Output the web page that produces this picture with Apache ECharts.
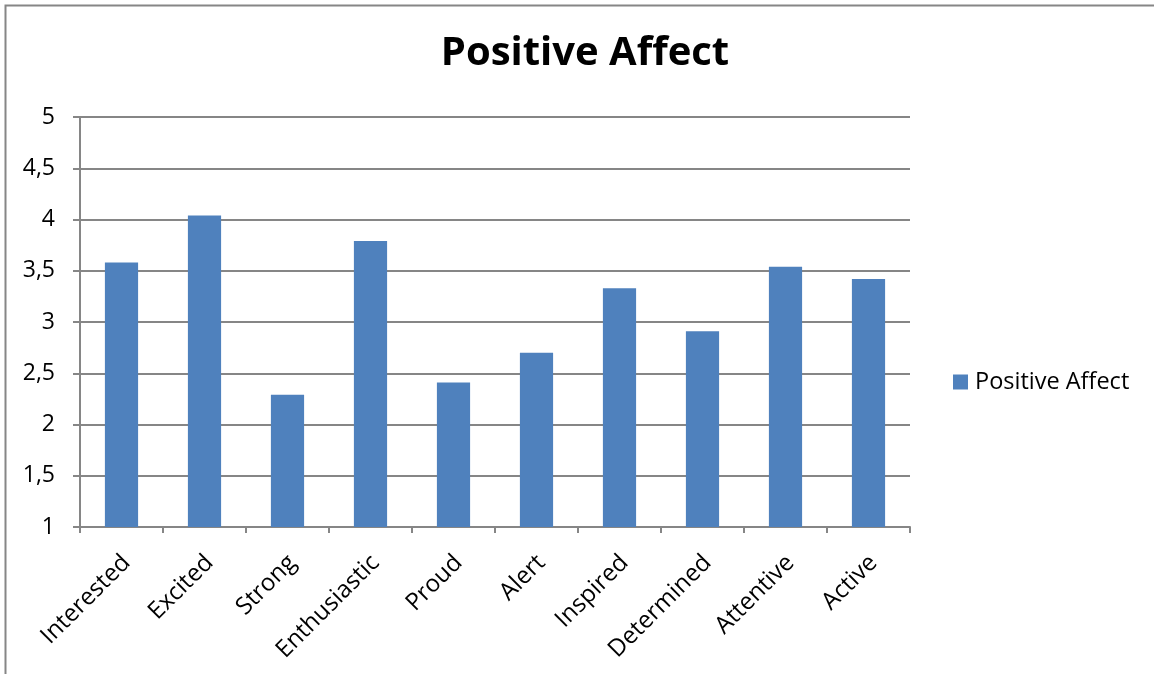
<!DOCTYPE html>
<html>
<head>
<meta charset="utf-8">
<script src="https://cdn.jsdelivr.net/npm/echarts@6/dist/echarts.min.js"></script>
<style>
  html, body { margin: 0; padding: 0; background: #fff; }
  #chart { width: 1154px; height: 674px; }
</style>
</head>
<body>
<div id="chart"></div>
<script>
// Mean ratings for each positive-affect item
const categories = ['Interested', 'Excited', 'Strong', 'Enthusiastic', 'Proud', 'Alert', 'Inspired', 'Determined', 'Attentive', 'Active'];
const values = [3.58, 4.04, 2.29, 3.79, 2.41, 2.70, 3.33, 2.91, 3.54, 3.42];
const seriesName = 'Positive Affect';
const chartTitle = 'Positive Affect';

const FONT = '"Open Sans", "Liberation Sans", sans-serif';
const GRAY = '#868686';

const chart = echarts.init(document.getElementById('chart'));
chart.setOption({
  animation: false,
  backgroundColor: '#fff',
  title: {
    text: chartTitle,
    left: 580,
    textAlign: 'center',
    top: 29,
    textStyle: { fontFamily: FONT, fontSize: 40, fontWeight: 'bold', color: '#000' }
  },
  legend: {
    data: [seriesName],
    left: 948,
    top: 365,
    padding: 5,
    itemWidth: 15,
    itemHeight: 15,
    itemGap: 6,
    icon: 'rect',
    textStyle: { fontFamily: FONT, fontSize: 23.5, color: '#000', padding: [0, 0, 0, 2] }
  },
  grid: { left: 80, right: 244, top: 117, bottom: 147, containLabel: false },
  xAxis: {
    type: 'category',
    data: categories,
    boundaryGap: true,
    axisLine: { lineStyle: { color: GRAY, width: 2 } },
    axisTick: { show: true, length: 6, alignWithLabel: false, lineStyle: { color: GRAY, width: 2 } },
    axisLabel: {
      rotate: 45, fontFamily: FONT, fontSize: 24, color: '#000',
      margin: 20, interval: 0, verticalAlign: 'top', padding: [0, 5, 0, 0]
    }
  },
  yAxis: {
    type: 'value',
    min: 1,
    max: 5,
    interval: 0.5,
    axisLine: { show: true, lineStyle: { color: GRAY, width: 2 } },
    axisTick: { show: true, length: 7, lineStyle: { color: GRAY, width: 2 } },
    splitLine: { lineStyle: { color: GRAY, width: 2 } },
    axisLabel: {
      fontFamily: FONT, fontSize: 23, color: '#000', margin: 25,
      formatter: v => String(v).replace('.', ',')
    }
  },
  series: [{
    name: seriesName,
    type: 'bar',
    data: values,
    barWidth: '40%',
    itemStyle: { color: '#4F81BD' }
  }],
  graphic: [{
    type: 'rect',
    shape: { x: 5.5, y: 5.5, width: 1200, height: 700 },
    style: { fill: null, stroke: GRAY, lineWidth: 2 },
    silent: true
  }]
});
</script>
</body>
</html>
